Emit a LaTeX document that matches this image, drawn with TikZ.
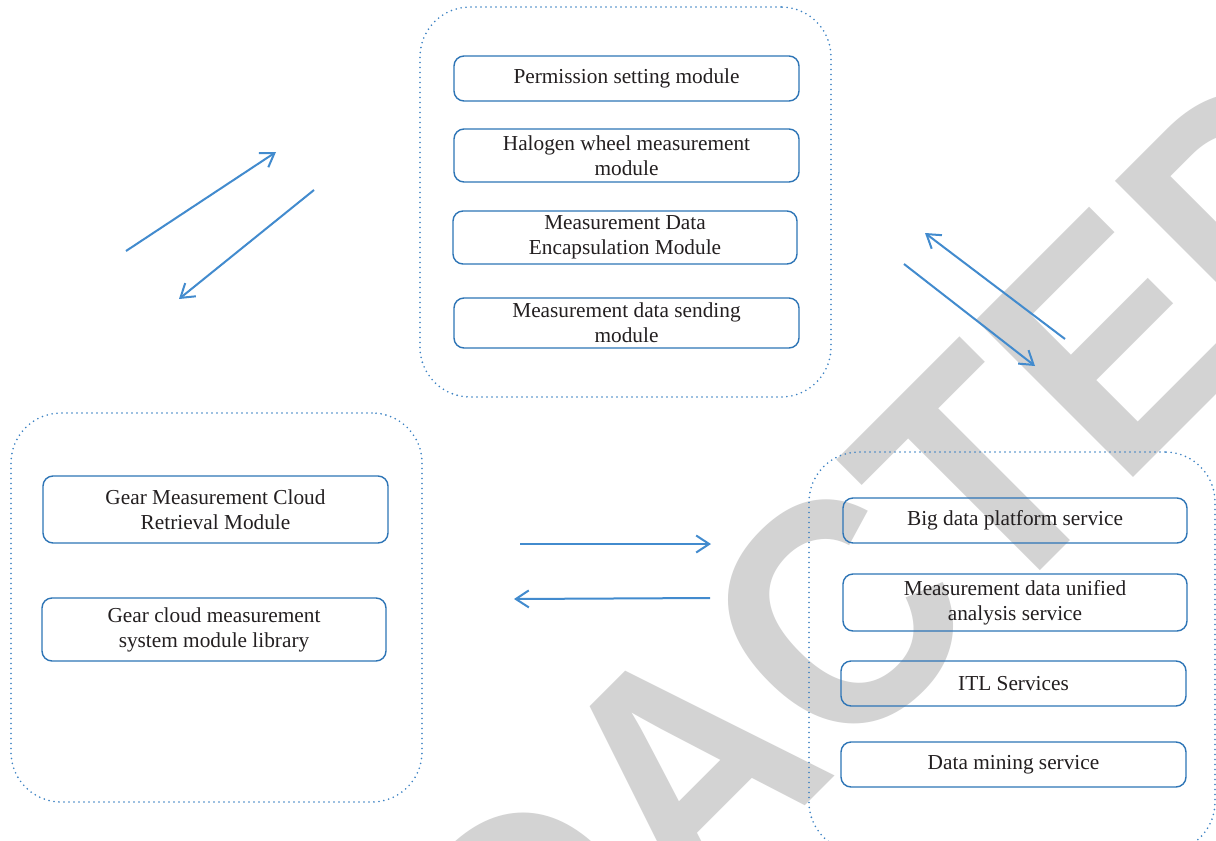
\documentclass[tikz,border=0pt]{standalone}
\usepackage{fontspec}
\setmainfont{Liberation Serif}
\newfontfamily\wmfont{Liberation Sans}[FakeStretch=0.916]
\usetikzlibrary{arrows.meta}
\definecolor{boxblue}{RGB}{46,117,182}
\definecolor{arrowblue}{RGB}{66,139,206}
\definecolor{dotblue}{RGB}{60,130,195}
\definecolor{wmgray}{RGB}{211,211,211}
\definecolor{txt}{RGB}{35,31,32}

\begin{document}
\begin{tikzpicture}[x=1pt,y=-1pt,
  module/.style={draw=boxblue, line width=1.4pt, rounded corners=10pt, align=center,
    inner sep=0pt, text=txt, font=\fontsize{21.3}{25}\selectfont},
  group/.style={draw=dotblue, line width=1.8pt, line cap=round,
    dash pattern=on 0pt off 5pt, rounded corners=50pt, inner sep=0pt},
  flow/.style={draw=arrowblue, line width=2pt,
    -{Straight Barb[length=13pt,width=17pt,line width=2pt]}},
  stamp/.style={anchor=base west, inner sep=0pt, rotate=45, text=wmgray,
    font=\wmfont\bfseries\fontsize{323}{323}\selectfont},
]
\useasboundingbox (0,0) rectangle (1216,841);
\fill[white] (0,0) rectangle (1216,841);

% watermark behind the diagram
\node[stamp] (wm) at (247.5,1363.5) {REDACTED};

% dotted group frames
\node[group, minimum width=411pt, minimum height=390pt] (client) at (625.5,202) {};
\node[group, minimum width=411pt, minimum height=389pt] (cloud) at (216.5,607.5) {};
\node[group, minimum width=406pt, minimum height=400pt] (service) at (1012,652) {};

% measurement client modules
\node[module, minimum width=345pt, minimum height=45pt] (perm) at (626.5,78.5) {Permission setting module};
\node[module, minimum width=345pt, minimum height=53pt] (halo) at (626.5,155.5) {Halogen wheel measurement\\module};
\node[module, minimum width=344pt, minimum height=53pt] (enc) at (625,237.5) {Measurement Data\\Encapsulation Module};
\node[module, minimum width=345pt, minimum height=50pt] (send) at (626.5,323) {Measurement data sending\\module};

% cloud modules
\node[module, minimum width=345pt, minimum height=67pt] (retr) at (215.5,509.5) {Gear Measurement Cloud\\Retrieval Module};
\node[module, minimum width=344pt, minimum height=63pt] (lib) at (214,629.5) {Gear cloud measurement\\system module library};

% platform services
\node[module, minimum width=344pt, minimum height=45pt] (big) at (1015,520.5) {Big data platform service};
\node[module, minimum width=344pt, minimum height=57pt] (uni) at (1015,602.5) {Measurement data unified\\analysis service};
\node[module, minimum width=345pt, minimum height=45pt] (itl) at (1013.5,683.5) {ITL Services};
\node[module, minimum width=345pt, minimum height=45pt] (mine) at (1013.5,764.5) {Data mining service};

% arrow end points
\coordinate (a1s) at (126,251);  \coordinate (a1e) at (276,152);
\coordinate (a2s) at (314,190);  \coordinate (a2e) at (179,299);
\coordinate (a3s) at (1065,339); \coordinate (a3e) at (925,233);
\coordinate (a4s) at (904,264);  \coordinate (a4e) at (1035,366);
\coordinate (a5s) at (520,544);  \coordinate (a5e) at (711,544);
\coordinate (a6s) at (710,598);  \coordinate (a6e) at (514,599);

\draw[flow] (a1s) -- (a1e);
\draw[flow] (a2s) -- (a2e);
\draw[flow] (a3s) -- (a3e);
\draw[flow] (a4s) -- (a4e);
\draw[flow] (a5s) -- (a5e);
\draw[flow] (a6s) -- (a6e);
\end{tikzpicture}
\end{document}
